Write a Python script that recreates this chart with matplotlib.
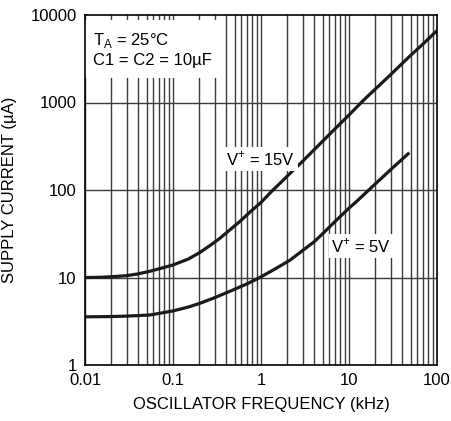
import numpy as np
import matplotlib
matplotlib.use("Agg")
import matplotlib.pyplot as plt

# frequency (kHz) vs supply current (uA)
freq_15v = [0.01, 0.015, 0.02, 0.03, 0.04, 0.055, 0.07, 0.1, 0.15, 0.2, 0.27, 0.34, 0.45,
            0.58, 0.75, 1, 1.3, 1.64, 2, 3, 5, 7, 10, 14.6, 20, 30, 50, 70, 100]
curr_15v = [10, 10.05, 10.2, 10.5, 11.0, 11.8, 12.6, 13.9, 16.3, 19.2, 23.6, 28, 35.5,
            44, 56, 72, 95, 119, 145, 215, 360, 505, 720, 1060, 1430, 2100, 3450, 4700, 6640]

freq_5v = [0.01, 0.02, 0.03, 0.055, 0.1, 0.15, 0.2, 0.3, 0.48, 0.7, 0.97, 1.5, 2.14, 3, 4,
           5, 7, 10, 12.2, 20, 30, 48.5]
curr_5v = [3.55, 3.58, 3.62, 3.73, 4.15, 4.6, 5.05, 5.9, 7.2, 8.5, 10, 12.8, 15.8, 20.5, 25.5,
           31.5, 44, 62, 74, 118, 172, 267]

xticks = [0.01, 0.1, 1, 10, 100]
xtick_labels = ["0.01", "0.1", "1", "10", "100"]
yticks = [1, 10, 100, 1000, 10000]
ytick_labels = ["1", "10", "100", "1000", "10000"]

plt.rcParams['font.family'] = ["Liberation Sans", "DejaVu Sans"]

fig = plt.figure(figsize=(4.51, 4.21), dpi=100)
ax = fig.add_axes([85 / 451, 1 - 365 / 421, 352 / 451, 350 / 421])
ax.set_xscale("log")
ax.set_yscale("log")
ax.set_xlim(0.01, 100)
ax.set_ylim(1, 10000)

# grid: every minor line vertically, decades only horizontally
gc = "#3c3c3c"
for d in [0.01, 0.1, 1, 10]:
    for m in range(1, 10):
        ax.axvline(d * m, color=gc, lw=1.0, zorder=1)
for y in yticks[1:-1]:
    ax.axhline(y, color=gc, lw=1.0, zorder=1)

ax.plot(freq_15v, curr_15v, color="#1a1a1a", lw=2.3, zorder=3, solid_capstyle="butt")
ax.plot(freq_5v, curr_5v, color="#1a1a1a", lw=2.3, zorder=3, solid_capstyle="butt")

fs = 12
box = dict(facecolor="white", edgecolor="none", pad=2)
ax.text(0.0122, 6500, "T$_\\mathregular{A}$ = 25°C\nC1 = C2 = 10µF", fontsize=fs,
        va="top", ha="left", linespacing=1.25,
        bbox=dict(facecolor="white", edgecolor="none", pad=7), zorder=4)
ax.text(0.4, 225, "V$^\\mathregular{+}$ = 15V", fontsize=fs, ha="left", va="center", bbox=box, zorder=4)
ax.text(6.3, 23, "V$^\\mathregular{+}$ = 5V", fontsize=fs, ha="left", va="center", bbox=box, zorder=4)

ax.set_xticks(xticks)
ax.set_xticklabels(xtick_labels, fontsize=fs)
ax.set_yticks(yticks)
ax.set_yticklabels(ytick_labels, fontsize=fs)
ax.minorticks_off()
ax.tick_params(length=0, pad=6)
ax.set_xlabel("OSCILLATOR FREQUENCY (kHz)", fontsize=fs, labelpad=6)
ax.set_ylabel("SUPPLY CURRENT (µA)", fontsize=fs, labelpad=10)
for s in ax.spines.values():
    s.set_linewidth(1.2)
    s.set_zorder(5)

fig.savefig("out.png", dpi=100)
